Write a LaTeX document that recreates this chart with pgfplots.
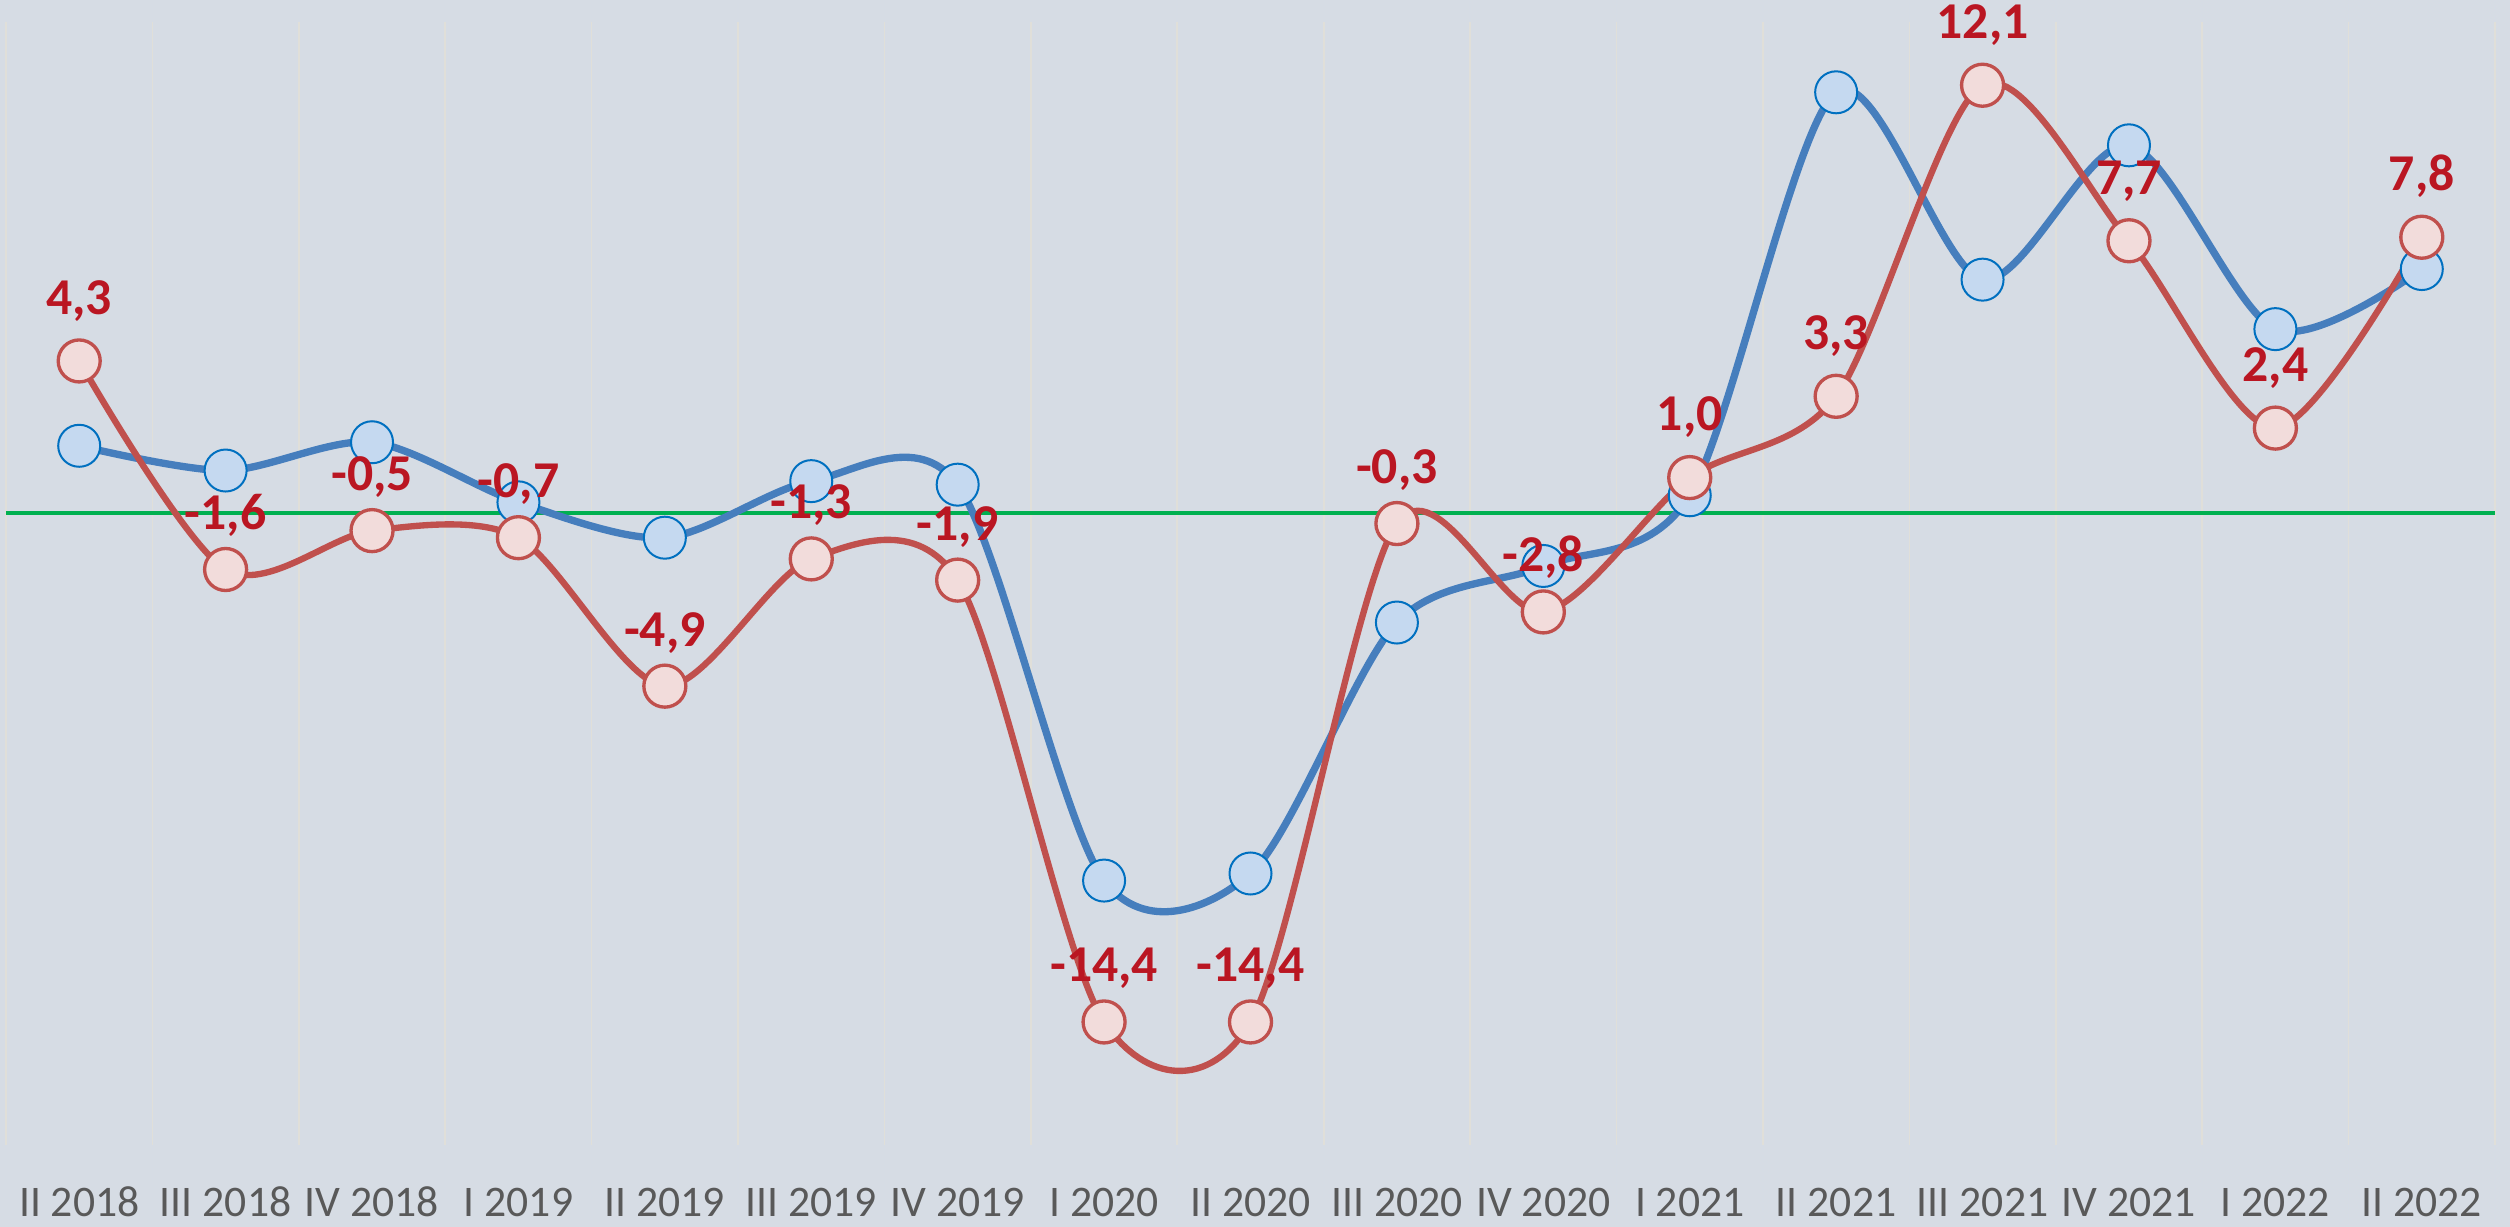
\documentclass[border=0pt]{standalone}
\usepackage{fontspec}
\setmainfont{Carlito}
\usepackage{pgfplots}
\pgfplotsset{compat=1.18}
\usepackage{pgfplotstable}
\definecolor{bg}{RGB}{214,220,228}
\definecolor{gridc}{RGB}{224,223,217}
\definecolor{blueline}{RGB}{70,126,189}
\definecolor{bluefill}{RGB}{197,217,240}
\definecolor{blueedge}{RGB}{0,112,192}
\definecolor{redline}{RGB}{192,80,77}
\definecolor{redfill}{RGB}{242,220,219}
\definecolor{labelred}{RGB}{186,22,34}
\definecolor{zerogreen}{RGB}{0,176,80}
\definecolor{ticktext}{RGB}{89,89,89}

\pgfplotstableread{
x blue red
0 1.9 4.3
1 1.2 -1.6
2 2.0 -0.5
3 0.3 -0.7
4 -0.7 -4.9
5 0.9 -1.3
6 0.8 -1.9
7 -10.4 -14.4
8 -10.2 -14.4
9 -3.1 -0.3
10 -1.5 -2.8
11 0.5 1.0
12 11.9 3.3
13 6.6 12.1
14 10.4 7.7
15 5.2 2.4
16 6.9 7.8
}\datatable

\begin{document}
\begin{tikzpicture}
\fill[bg] (0,0) rectangle (753pt,368.1pt);
\begin{axis}[
  at={(1.8pt,24.6pt)}, anchor=south west,
  scale only axis, width=746.7pt, height=336.9pt,
  xmin=-0.5, xmax=16.5, ymin=-17.88, ymax=13.89,
  clip=false,
  axis line style={draw=none},
  tick style={draw=none},
  major tick length=0pt, minor tick length=0pt,
  ytick=\empty,
  xtick={0,...,16},
  xticklabels={II 2018,III 2018,IV 2018,I 2019,II 2019,III 2019,IV 2019,I 2020,II 2020,III 2020,IV 2020,I 2021,II 2021,III 2021,IV 2021,I 2022,II 2022},
  xticklabel style={anchor=base, yshift=-21.6pt, font=\fontsize{13.1}{15}\selectfont, text=ticktext},
  minor xtick={-0.5,0.5,...,16.5},
  xminorgrids=true,
  minor grid style={draw=gridc, line width=0.5pt},
  extra y ticks={0},
  extra y tick labels={},
  extra y tick style={grid=major, major grid style={draw=zerogreen, line width=1.4pt}},
]
\addplot[blueline, line width=2.2pt, smooth, tension=0.5,
  mark=*, mark size=6.3pt,
  mark options={fill=bluefill, draw=blueedge, line width=0.6pt}]
  table[x=x, y=blue] {\datatable};
\addplot[redline, line width=1.9pt, smooth, tension=0.5,
  mark=*, mark size=6.3pt,
  mark options={fill=redfill, draw=redline, line width=1pt},
  point meta=y,
  nodes near coords={\raisebox{13pt}[0pt][0pt]{\pgfmathprintnumber[fixed,fixed zerofill,precision=1,use comma,assume math mode=true]{\pgfplotspointmeta}}},
  every node near coord/.append style={inner sep=0pt, font=\bfseries\fontsize{15.5}{18}\selectfont, text=labelred}]
  table[x=x, y=red] {\datatable};
\end{axis}
\pgfresetboundingbox
\path[use as bounding box] (0,0) rectangle (753pt,368.1pt);
\end{tikzpicture}
\end{document}
